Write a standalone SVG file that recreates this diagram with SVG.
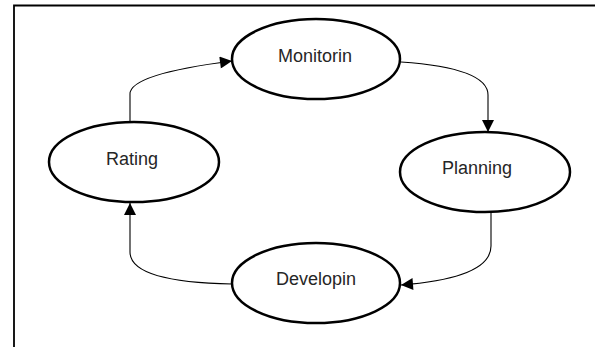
<svg xmlns="http://www.w3.org/2000/svg" width="595" height="347" viewBox="0 0 595 347">
<style>
.node ellipse{fill:#fff;stroke:#000;stroke-width:2.5}
.node text{font-family:"Liberation Sans",Arial,sans-serif;font-size:18px;fill:#262626;text-anchor:middle}
.conn path{fill:none;stroke:#000;stroke-width:1.1}
</style>
<defs>
<marker id="arr" viewBox="0 0 10 10" refX="10" refY="5" markerWidth="13" markerHeight="12" markerUnits="userSpaceOnUse" orient="auto">
<path d="M0,0 L10,5 L0,10 Z" fill="#000"/>
</marker>
</defs>
<rect width="595" height="347" fill="#fff"/>
<path d="M14,347 V5.5 H595" fill="none" stroke="#000" stroke-width="1.8"/>
<g class="conn">
<path d="M130,122 V94 Q130,74 232,61" marker-end="url(#arr)"/>
<path d="M401,62 Q488,68 488,95 V132" marker-end="url(#arr)"/>
<path d="M491,212 V246 Q491,278 401,285" marker-end="url(#arr)"/>
<path d="M232,284 Q130,282 130,252 V203" marker-end="url(#arr)"/>
</g>
<g id="monitorin" class="node"><ellipse cx="316" cy="59" rx="84" ry="40"/><text x="315" y="62">Monitorin</text></g>
<g id="planning" class="node"><ellipse cx="485" cy="172" rx="85" ry="40"/><text x="477" y="174">Planning</text></g>
<g id="rating" class="node"><ellipse cx="134" cy="162" rx="85" ry="40"/><text x="132" y="165">Rating</text></g>
<g id="developin" class="node"><ellipse cx="316" cy="283" rx="84" ry="40"/><text x="316" y="285">Developin</text></g>
</svg>
